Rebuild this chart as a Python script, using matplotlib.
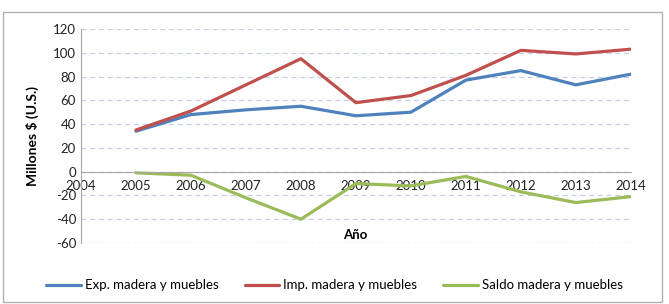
import matplotlib.pyplot as plt
from matplotlib.patches import Rectangle

years = [2005, 2006, 2007, 2008, 2009, 2010, 2011, 2012, 2013, 2014]
exp_vals = [34, 48, 52, 55, 47, 50, 77, 85, 73, 82]
imp_vals = [35, 51, 73, 95, 58, 64, 81, 102, 99, 103]
saldo_vals = [-1, -3, -22, -40, -10, -12, -4, -17, -26, -21]
labels = ["Exp. madera y muebles", "Imp. madera y muebles", "Saldo madera y muebles"]
colors = ["#4F81BD", "#C0504D", "#9BBB59"]

plt.rcParams['font.family'] = ['Lato', 'DejaVu Sans']
plt.rcParams['axes.unicode_minus'] = False

fig = plt.figure(figsize=(6.69, 3.04), dpi=100)
ax = fig.add_axes([0.121, 0.2007, 0.822, 0.704])

for vals, lab, c in zip([exp_vals, imp_vals, saldo_vals], labels, colors):
    ax.plot(years, vals, color=c, lw=2.3, label=lab, solid_capstyle='round')

ax.set_xlim(2004, 2014)
ax.set_ylim(-60, 120)
ax.set_yticks(range(-60, 121, 20))
ax.set_xticks(range(2004, 2015))
ax.tick_params(length=0, labelsize=9.5, colors='#222222')
ax.tick_params(axis='x', pad=6)
ax.grid(axis='y', color='#c5cfe6', ls=(0, (4, 3)), lw=0.9)
ax.set_axisbelow(True)

for s in ['top', 'right']:
    ax.spines[s].set_visible(False)
ax.spines['left'].set_color('#a6a6a6')
ax.spines['bottom'].set_position(('data', 0))
ax.spines['bottom'].set_color('#a6a6a6')

fig.text(0.048, 0.553, "Millones $ (U.S.)", rotation=90, ha='center', va='center',
         fontsize=10, fontweight='bold')
fig.text(0.531, 0.227, "Año", ha='center', va='center', fontsize=9.5, fontweight='bold')

fig.legend(loc='center', bbox_to_anchor=(0.5, 0.062), ncol=3, frameon=False,
           fontsize=9.5, handlelength=2.6, columnspacing=2.0, handletextpad=0.3)

fig.add_artist(Rectangle((0.004, 0.008), 0.986, 0.953, transform=fig.transFigure,
                         fill=False, edgecolor='#b0b0b0', lw=1))

fig.savefig("out.png", dpi=100)
